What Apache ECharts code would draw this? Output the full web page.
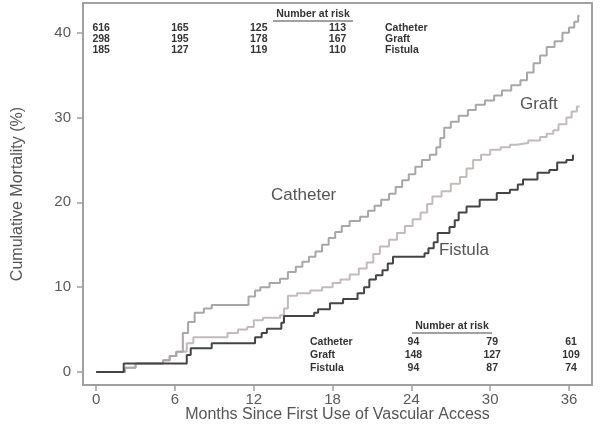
<!DOCTYPE html>
<html>
<head>
<meta charset="utf-8">
<script src="https://cdn.jsdelivr.net/npm/echarts@6/dist/echarts.min.js"></script>
<style>html,body{margin:0;padding:0;background:#fff}#c{width:600px;height:438px}</style>
</head>
<body>
<div id="c"></div>
<script>
// ---- data ----
const xTicks = [0, 6, 12, 18, 24, 30, 36];
const yTicks = [0, 10, 20, 30, 40];

const catheterT = [0,2.2,3.0,5.1,5.6,6.1,6.6,7.0,7.5,8.2,8.8,11.6,12.1,12.5,13.2,14.0,14.6,15.2,15.7,16.2,16.7,17.2,17.7,18.2,18.7,19.3,20.1,20.7,21.2,21.7,22.3,22.8,23.3,23.8,24.3,24.8,25.4,25.9,26.2,26.5,27.0,27.6,28.3,28.9,29.6,30.3,30.9,31.6,32.3,32.8,33.3,33.8,34.3,34.9,35.5,36.0,36.4,36.7,36.8];
const catheterV = [0,0.5,1.0,1.4,1.9,2.4,4.6,5.9,7.0,7.5,7.9,8.9,9.6,10.0,10.5,11.0,11.8,12.4,13.0,13.6,14.2,15.0,15.8,16.5,17.2,17.8,18.3,19.0,19.6,20.3,21.0,21.8,22.6,23.3,24.2,25.0,25.6,26.5,27.6,28.8,29.5,30.2,30.9,31.5,32.0,32.6,33.2,33.8,34.4,35.3,36.4,37.3,38.3,39.0,40.0,40.6,41.3,42.0,42.0];

const graftT = [0,2.2,3.0,5.1,5.6,6.1,6.9,7.4,10.0,10.8,11.5,12.0,12.7,14.0,14.3,14.6,15.3,16.3,17.2,18.0,18.6,19.3,20.0,20.6,21.1,21.6,22.3,22.9,23.5,24.1,24.7,25.2,25.6,26.3,27.0,27.7,28.2,28.7,29.3,30.0,30.8,31.5,32.0,32.9,33.8,34.3,34.8,35.2,35.8,36.2,36.6,36.8];
const graftV = [0,0.5,1.0,1.4,1.9,2.4,3.4,4.1,4.6,5.0,5.3,6.1,6.4,6.7,7.5,9.0,9.3,9.6,10.0,10.5,10.9,11.5,12.2,12.9,13.9,14.8,15.6,16.4,17.2,18.0,18.8,19.8,20.7,21.3,22.2,23.0,24.0,25.0,25.6,26.2,26.5,26.8,27.0,27.3,27.7,28.1,28.5,29.2,30.0,30.7,31.3,31.3];

const fistulaT = [0,2.1,6.9,7.2,8.8,12.1,12.6,13.0,14.1,14.3,16.6,16.9,17.8,18.8,19.9,20.4,20.8,21.3,21.8,22.2,22.6,25.0,25.3,25.7,26.0,26.9,27.3,27.6,28.2,29.2,30.5,31.5,32.1,32.5,33.6,34.5,35.1,35.8,36.3];
const fistulaV = [0,1.0,2.0,2.8,3.4,4.1,4.6,5.1,5.8,6.6,7.0,7.4,8.1,8.6,9.3,10.0,10.9,11.4,12.0,12.8,13.6,14.0,14.6,15.3,16.4,17.1,17.9,18.8,19.5,20.3,21.1,21.5,22.1,22.7,23.5,23.8,24.7,25.0,25.6];

const riskTitle = 'Number at risk';
const riskTopMonths = [0, 6, 12, 18];
const riskTopRows = [
  {name: 'Catheter', values: [616, 165, 125, 113]},
  {name: 'Graft',    values: [298, 195, 178, 167]},
  {name: 'Fistula',  values: [185, 127, 119, 110]}
];
const riskBottomMonths = [24, 30, 36];
const riskBottomRows = [
  {name: 'Catheter', values: [94, 79, 61]},
  {name: 'Graft',    values: [148, 127, 109]},
  {name: 'Fistula',  values: [94, 87, 74]}
];
const curveLabels = [
  {text: 'Catheter', x: 15.8, y: 20.8},
  {text: 'Graft', x: 33.7, y: 31.6},
  {text: 'Fistula', x: 28.0, y: 14.3}
];

// ---- chart ----
const zip = (t, v) => t.map((x, i) => [x, v[i]]);
const chart = echarts.init(document.getElementById('c'), null, {renderer: 'canvas'});
const FONT = 'Liberation Sans, Arial, sans-serif';

chart.setOption({
  animation: false,
  backgroundColor: '#fff',
  grid: {left: 83, right: 8, top: 3, bottom: 53, show: true, borderColor: '#a0a0a0', borderWidth: 2, backgroundColor: '#fff'},
  xAxis: {
    type: 'value', min: -1, max: 37.75,
    name: 'Months Since First Use of Vascular Access', nameLocation: 'middle', nameGap: 30, nameMoveOverlap: false,
    nameTextStyle: {color: '#555', fontSize: 16, fontFamily: FONT, verticalAlign: 'middle'},
    axisLine: {show: false, onZero: false},
    splitLine: {show: false},
    axisTick: {show: true, length: 6, customValues: xTicks, lineStyle: {color: '#a0a0a0', width: 1.5}},
    axisLabel: {customValues: xTicks, color: '#5a5a5a', fontSize: 15, fontFamily: FONT, margin: 7}
  },
  yAxis: {
    type: 'value', min: -1.53, max: 43.5,
    name: 'Cumulative Mortality (%)', nameLocation: 'middle', nameGap: 57,
    nameTextStyle: {color: '#555', fontSize: 16, fontFamily: FONT},
    axisLine: {show: false, onZero: false},
    splitLine: {show: false},
    axisTick: {show: true, length: 6, customValues: yTicks, lineStyle: {color: '#a0a0a0', width: 1.5}},
    axisLabel: {customValues: yTicks, color: '#5a5a5a', fontSize: 15, fontFamily: FONT, margin: 12}
  },
  series: [
    {name: 'Graft', type: 'line', step: 'end', symbol: 'none', data: zip(graftT, graftV), lineStyle: {color: '#c4baba', width: 2}},
    {name: 'Catheter', type: 'line', step: 'end', symbol: 'none', data: zip(catheterT, catheterV), lineStyle: {color: '#aaa6a6', width: 2}},
    {name: 'Fistula', type: 'line', step: 'end', symbol: 'none', data: zip(fistulaT, fistulaV), lineStyle: {color: '#444', width: 2}}
  ]
});

function px(m) { return chart.convertToPixel({xAxisIndex: 0}, m); }
function py(v) { return chart.convertToPixel({yAxisIndex: 0}, v); }

const g = [];
const tStyle = (text, x, y, align, size) => ({
  type: 'text', x: x, y: y,
  style: {text: text, fill: '#333', font: 'bold ' + size + 'px ' + FONT, textAlign: align, textVerticalAlign: 'middle'}
});
function header(cx, cy) {
  g.push(tStyle(riskTitle, cx, cy, 'center', 10.5));
  g.push({type: 'line', shape: {x1: cx - 40, y1: cy + 7, x2: cx + 40, y2: cy + 7}, style: {stroke: '#444', lineWidth: 1}});
}
// top table
header(313, 14);
riskTopRows.forEach((row, r) => {
  const y = 28 + r * 11;
  row.values.forEach((v, i) => g.push(tStyle(String(v), px(riskTopMonths[i]) + 5, y, 'center', 10.5)));
  g.push(tStyle(row.name, 385, y, 'left', 10.5));
});
// bottom table
header(452, 326);
riskBottomRows.forEach((row, r) => {
  const y = 342 + r * 13;
  row.values.forEach((v, i) => g.push(tStyle(String(v), px(riskBottomMonths[i]) + 2, y, 'center', 10.5)));
  g.push(tStyle(row.name, 310, y, 'left', 10.5));
});
// curve labels
curveLabels.forEach(l => {
  g.push({type: 'text', x: px(l.x), y: py(l.y),
    style: {text: l.text, fill: '#555', font: '17px ' + FONT, textAlign: 'center', textVerticalAlign: 'middle'}});
});
chart.setOption({graphic: g});
</script>
</body>
</html>
